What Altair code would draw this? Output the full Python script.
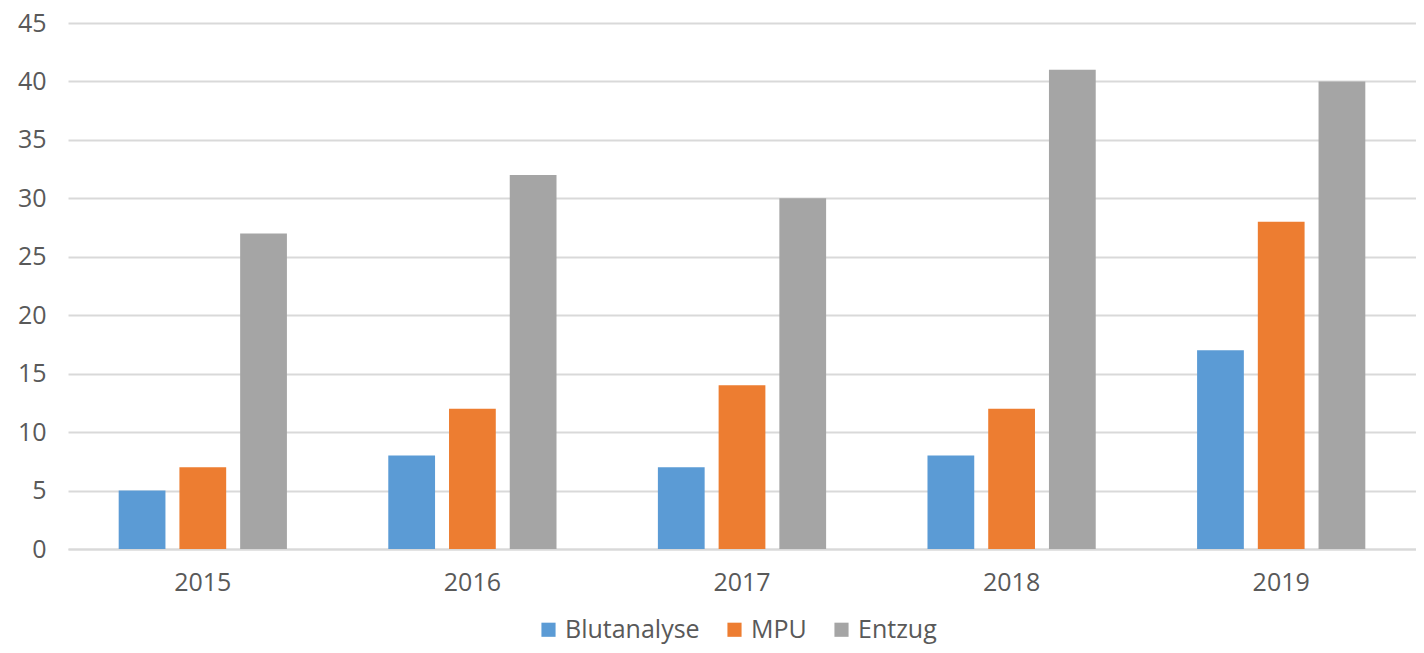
import altair as alt
import pandas as pd

years = ["2015", "2016", "2017", "2018", "2019"]
series = ["Blutanalyse", "MPU", "Entzug"]
blutanalyse = [5, 8, 7, 8, 17]
mpu = [7, 12, 14, 12, 28]
entzug = [27, 32, 30, 41, 40]
colors = ["#5B9BD5", "#ED7D31", "#A5A5A5"]

rows = []
for name, vals in zip(series, [blutanalyse, mpu, entzug]):
    for y, v in zip(years, vals):
        rows.append({"Jahr": y, "Serie": name, "Wert": v})
df = pd.DataFrame(rows)

FONT = "Open Sans"
TXT = "#595959"
FS = 25

chart = alt.Chart(df).mark_bar().encode(
    x=alt.X("Jahr:N", sort=years, title=None,
            scale=alt.Scale(paddingInner=0.376, paddingOuter=0.188),
            axis=alt.Axis(labelAngle=0, ticks=False, domainColor="#D9D9D9", domainWidth=2,
                          labelPadding=21, labelFontSize=FS, labelColor=TXT, labelFont=FONT)),
    xOffset=alt.XOffset("Serie:N", sort=series,
                        scale=alt.Scale(paddingInner=0.23, paddingOuter=0)),
    y=alt.Y("Wert:Q", title=None,
            scale=alt.Scale(domain=[0, 45]),
            axis=alt.Axis(values=list(range(0, 50, 5)), domain=False, ticks=False,
                          gridColor="#D9D9D9", gridWidth=2, labelPadding=22,
                          labelFontSize=FS, labelColor=TXT, labelFont=FONT)),
    color=alt.Color("Serie:N", sort=series, title=None,
                    scale=alt.Scale(domain=series, range=colors),
                    legend=alt.Legend(orient="none", direction="horizontal",
                                      legendX=468, legendY=594,
                                      symbolType="square", symbolSize=200, symbolStrokeWidth=0,
                                      labelOffset=4, labelFontSize=FS, labelColor=TXT,
                                      labelFont=FONT, columnPadding=22)),
).properties(
    width=1348, height=526,
    autosize=alt.AutoSizeParams(type="none"),
    padding={"left": 60, "top": 15, "right": 0, "bottom": 96},
).configure_view(stroke=None)

chart.save("out.html", embed_options={"renderer": "svg", "actions": False})
